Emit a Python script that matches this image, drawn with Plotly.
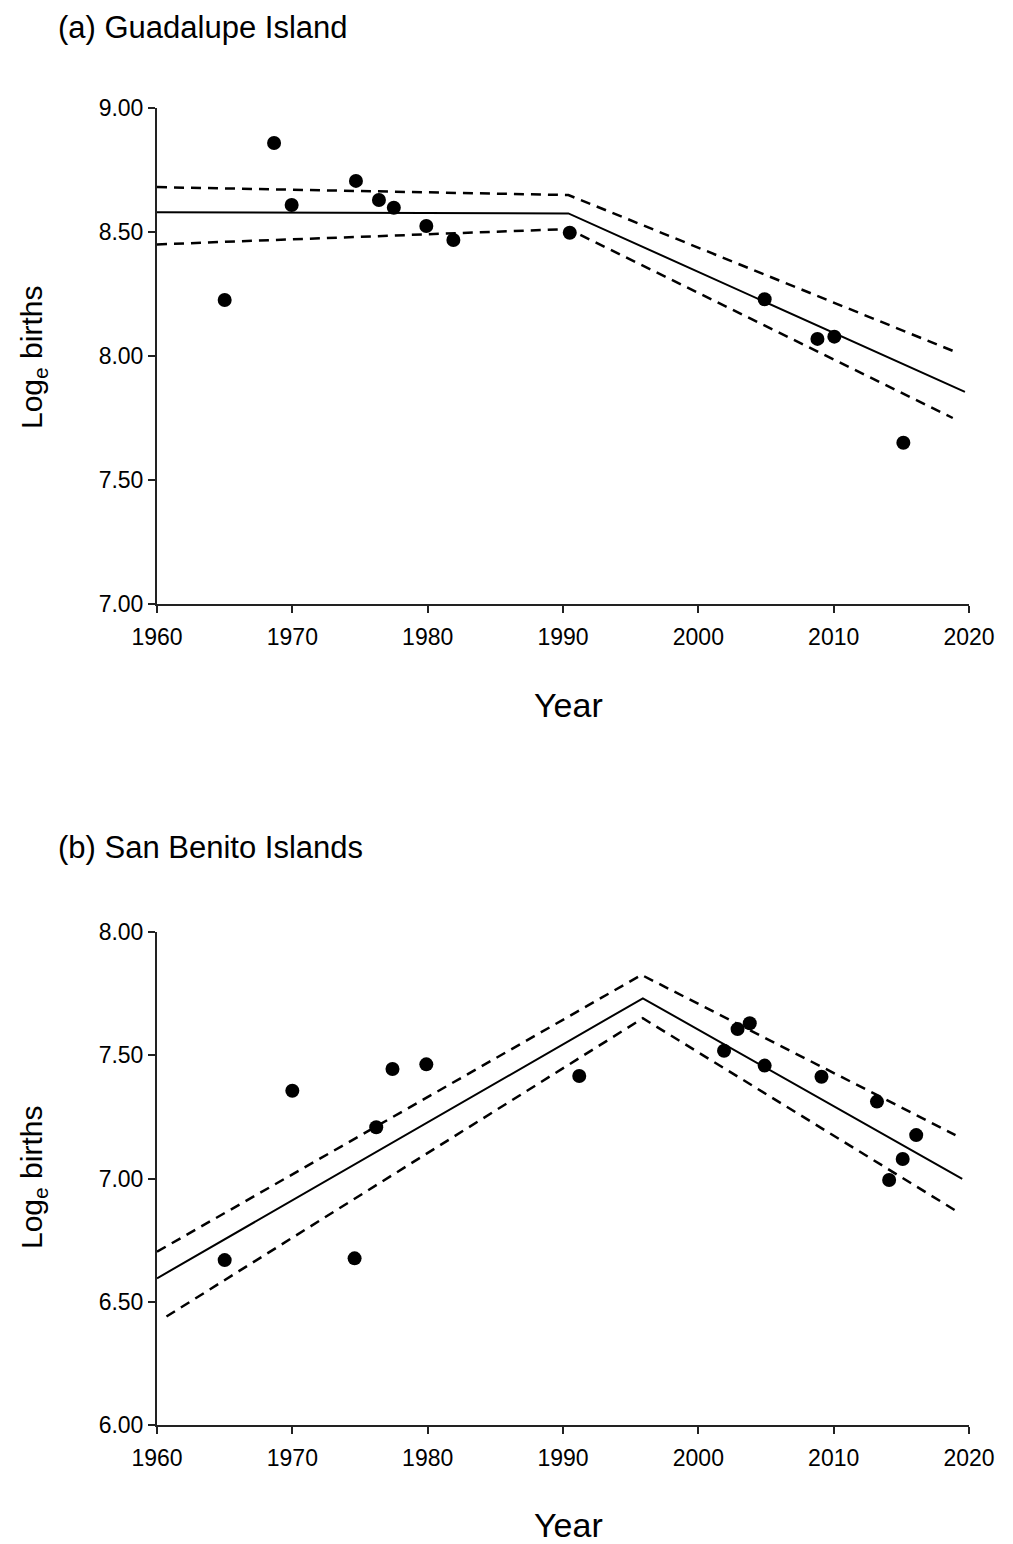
import plotly.graph_objects as go

# ---- Data ----
# (a) Guadalupe Island
guad_years = [1965.0, 1968.65, 1969.95, 1974.7, 1976.4, 1977.5, 1979.9, 1981.9, 1990.5,
              2004.9, 2008.8, 2010.05, 2015.15]
guad_logbirths = [8.226, 8.859, 8.609, 8.706, 8.629, 8.598, 8.524, 8.468, 8.497,
                  8.229, 8.069, 8.078, 7.650]
guad_fit_x = [1960, 1990.4, 2019.7]
guad_fit_y = [8.580, 8.575, 7.855]
guad_upper_x = [1960, 1990.4, 2019.2]
guad_upper_y = [8.681, 8.649, 8.012]
guad_lower_x = [1960, 1990.4, 2018.8]
guad_lower_y = [8.450, 8.512, 7.750]

# (b) San Benito Islands
sb_years = [1965.0, 1970.0, 1974.6, 1976.2, 1977.4, 1979.9, 1991.2,
            2001.9, 2002.9, 2003.8, 2004.9, 2009.1, 2013.2, 2014.1, 2015.1, 2016.1]
sb_logbirths = [6.669, 7.356, 6.676, 7.208, 7.444, 7.463, 7.416,
                7.518, 7.606, 7.630, 7.458, 7.413, 7.312, 6.994, 7.079, 7.176]
sb_fit_x = [1960, 1995.9, 2019.5]
sb_fit_y = [6.595, 7.731, 6.998]
sb_upper_x = [1960, 1995.8, 2019.0]
sb_upper_y = [6.703, 7.826, 7.176]
sb_lower_x = [1960.7, 1995.9, 2019.3]
sb_lower_y = [6.440, 7.650, 6.860]

x_ticks = [1960, 1970, 1980, 1990, 2000, 2010, 2020]
guad_y_ticks = [7.0, 7.5, 8.0, 8.5, 9.0]
sb_y_ticks = [6.0, 6.5, 7.0, 7.5, 8.0]

# page has an 8px body margin; compensate so the figure lands where the reference is
OFF = 8
W, H = 1013 - OFF, 1544 - OFF
FONT = "Liberation Sans, Arial, sans-serif"

fig = go.Figure()

def add_panel(xa, ya, px, py, fx, fy, ux, uy, lx, ly):
    fig.add_trace(go.Scatter(x=ux, y=uy, mode="lines", xaxis=xa, yaxis=ya,
                             line=dict(color="black", width=2.5, dash="10px,7px"),
                             showlegend=False, hoverinfo="skip"))
    fig.add_trace(go.Scatter(x=lx, y=ly, mode="lines", xaxis=xa, yaxis=ya,
                             line=dict(color="black", width=2.5, dash="10px,7px"),
                             showlegend=False, hoverinfo="skip"))
    fig.add_trace(go.Scatter(x=fx, y=fy, mode="lines", xaxis=xa, yaxis=ya,
                             line=dict(color="black", width=2),
                             showlegend=False, hoverinfo="skip"))
    fig.add_trace(go.Scatter(x=px, y=py, mode="markers", xaxis=xa, yaxis=ya,
                             marker=dict(color="black", size=14),
                             showlegend=False))

add_panel("x", "y", guad_years, guad_logbirths, guad_fit_x, guad_fit_y,
          guad_upper_x, guad_upper_y, guad_lower_x, guad_lower_y)
add_panel("x2", "y2", sb_years, sb_logbirths, sb_fit_x, sb_fit_y,
          sb_upper_x, sb_upper_y, sb_lower_x, sb_lower_y)

def px_x(x):
    return (x - OFF) / W

def px_y(y):
    return 1 - (y - OFF) / H

xd = [px_x(157), px_x(969)]
top_dom = [px_y(604), px_y(108)]
bot_dom = [px_y(1425), px_y(932)]

def xaxis_cfg(anchor):
    return dict(domain=xd, range=[1960, 2020], tickvals=x_ticks,
                ticktext=[str(t) for t in x_ticks], showline=True, linecolor="#222",
                linewidth=2, ticks="outside", ticklen=7, tickwidth=2, tickcolor="#222",
                showgrid=False, zeroline=False, anchor=anchor, automargin=False,
                ticklabelstandoff=4,
                tickfont=dict(family=FONT, size=23, color="black"))

def yaxis_cfg(dom, rng, ticks, anchor):
    return dict(domain=dom, range=rng, tickvals=ticks,
                ticktext=[f"{t:.2f}" for t in ticks], showline=True, linecolor="#222",
                linewidth=2, ticks="outside", ticklen=7, tickwidth=2, tickcolor="#222",
                showgrid=False, zeroline=False, anchor=anchor, automargin=False,
                tickfont=dict(family=FONT, size=23, color="black"))

fig.update_layout(
    width=W, height=H,
    margin=dict(l=0, r=0, t=0, b=0, autoexpand=False),
    paper_bgcolor="white", plot_bgcolor="white",
    xaxis=xaxis_cfg("y"),
    yaxis=yaxis_cfg(top_dom, [7.0, 9.0], guad_y_ticks, "x"),
    xaxis2=xaxis_cfg("y2"),
    yaxis2=yaxis_cfg(bot_dom, [6.0, 8.0], sb_y_ticks, "x2"),
    font=dict(family=FONT, color="black"),
)

def ann(text, x, y, size, xanchor="center", angle=0, yanchor="middle"):
    fig.add_annotation(text=text, x=px_x(x), y=px_y(y), xref="paper", yref="paper",
                       showarrow=False, xanchor=xanchor, yanchor=yanchor,
                       textangle=angle, font=dict(family=FONT, size=size, color="black"))

ann("(a) Guadalupe Island", 56, OFF, 31, xanchor="left", yanchor="top")
ann("(b) San Benito Islands", 56, 847, 31, xanchor="left")
ann("Year", 568, 705, 34)
ann("Year", 568, 1525, 34)
ann("Log<sub>e</sub> births", 33, 358, 30, angle=-90)
ann("Log<sub>e</sub> births", 33, 1178, 30, angle=-90)

fig.write_html("out.html")
